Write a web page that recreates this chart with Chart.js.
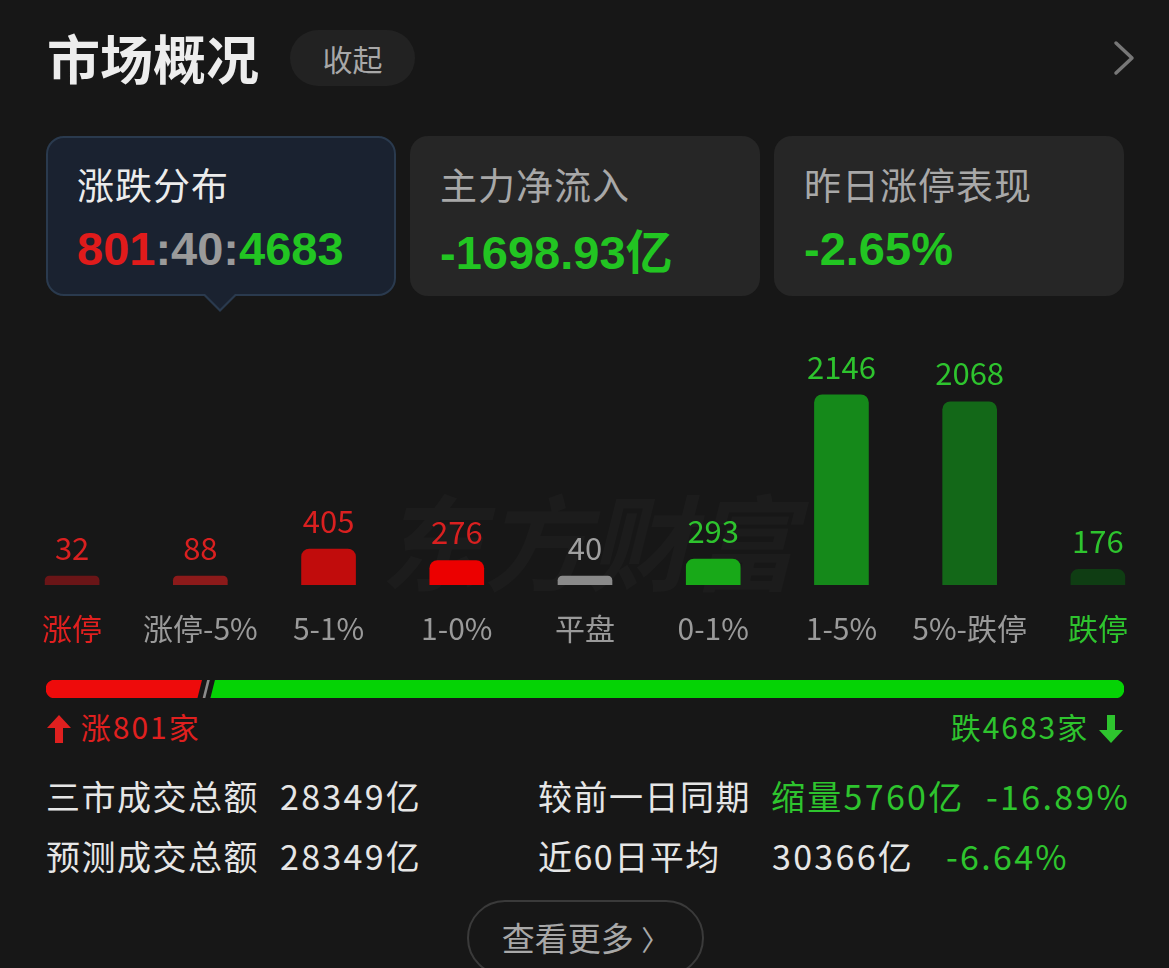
<!DOCTYPE html>
<html>
<head>
<meta charset="utf-8">
<script src="https://cdn.jsdelivr.net/npm/chart.js@4/dist/chart.umd.min.js"></script>
<style>
  html, body { margin: 0; padding: 0; background: #171717; }
  body { width: 1169px; height: 968px; position: relative; overflow: hidden;
         font-family: "Noto Sans CJK SC", "Noto Sans", sans-serif; color: #e8e8e8; }
  .abs { position: absolute; white-space: nowrap; }
  .title { left: 47px; top: 20px; font-size: 53px; font-weight: 700; color: #ededed; line-height: 74px; }
  .pill { left: 290px; top: 30px; width: 125px; height: 56px; border-radius: 28px; background: #222;
          color: #a8a8a8; font-size: 30px; line-height: 56px; text-align: center; }
  .chev { left: 1110px; top: 40px; width: 28px; height: 36px; }
  .card { top: 136px; width: 350px; height: 160px; border-radius: 18px; background: #262626; box-sizing: border-box; }
  .card.sel { background: #1a2230; border: 2px solid #2a3a4e; }
  .card .t { position: absolute; left: 30px; top: 23px; font-size: 37px; color: #a8a8a8; line-height: 50px; letter-spacing: 1px; }
  .card.sel .t { color: #ececec; left: 29px; top: 21px; }
  .card .v { position: absolute; left: 30px; top: 88px; font-size: 47px; font-weight: 700; line-height: 50px;
             font-family: "Liberation Sans", Arial, sans-serif; color: #22c522; }
  .card.sel .v { left: 29px; top: 86px; }
  .tri { left: 202px; top: 294px; width: 0; height: 0; border-left: 18px solid transparent;
         border-right: 18px solid transparent; border-top: 18px solid #2a3a4e; }
  .tri2 { left: 204px; top: 293px; width: 0; height: 0; border-left: 16px solid transparent;
          border-right: 16px solid transparent; border-top: 16px solid #1a2230; }
  .wm { left: 380px; top: 462px; font-size: 104px; font-weight: 700; font-style: italic; color: rgba(255,255,255,0.022); }
  .leg { top: 706px; font-size: 30px; line-height: 40px; letter-spacing: 2px; }
  .row { font-size: 34px; line-height: 46px; color: #e6e6e6; letter-spacing: 1.5px; }
  .num { letter-spacing: 2.3px; }
  .g { color: #2ec42e; }
  .more { left: 467px; top: 900px; width: 237px; height: 76px; border-radius: 38px; border: 2px solid #3a3a3a;
          box-sizing: border-box; color: #a8a8a8; font-size: 33px; line-height: 70px; text-align: center; }
</style>
</head>
<body>
<div class="abs title">市场概况</div>
<div class="abs pill">收起</div>
<svg class="abs chev" viewBox="0 0 28 36"><polyline points="6,3 22,18 6,33" fill="none" stroke="#777" stroke-width="3.5" stroke-linecap="round" stroke-linejoin="round"/></svg>

<div class="abs card sel" style="left:46px;">
  <div class="t">涨跌分布</div>
  <div class="v"><span style="color:#e01b1b">801</span><span style="color:#9a9a9a">:40:</span><span>4683</span></div>
</div>
<div class="abs tri"></div>
<div class="abs tri2"></div>
<div class="abs card" style="left:410px;">
  <div class="t">主力净流入</div>
  <div class="v">-1698.93<span style="font-family:'Noto Sans CJK SC';font-weight:700;">亿</span></div>
</div>
<div class="abs card" style="left:774px;">
  <div class="t">昨日涨停表现</div>
  <div class="v">-2.65%</div>
</div>

<div class="abs wm">东方财富</div>
<div class="abs" style="left:8px; top:329px; width:1154px; height:344px;"><canvas id="dist"></canvas></div>
<div class="abs" style="left:46px; top:680px; width:1078px; height:18px;"><canvas id="ratio"></canvas></div>

<div class="abs leg" style="left:46px; color:#e0201f;">
  <svg width="26" height="30" viewBox="0 0 26 30" style="vertical-align:-5px;"><path d="M13 1 L25 14 L17 14 L17 29 L9 29 L9 14 L1 14 Z" fill="#e0201f"/></svg>
  <span id="upTxt"></span>
</div>
<div class="abs leg" style="right:45px; color:#2ec42e;">
  <span id="downTxt"></span>
  <svg width="26" height="30" viewBox="0 0 26 30" style="vertical-align:-5px;"><path d="M13 29 L25 16 L17 16 L17 1 L9 1 L9 16 L1 16 Z" fill="#2ec42e"/></svg>
</div>

<div class="abs row" style="left:46px; top:773px;">三市成交总额</div>
<div class="abs row num" style="left:280px; top:773px;">28349亿</div>
<div class="abs row" style="left:538px; top:773px;">较前一日同期</div>
<div class="abs row g num" style="left:771px; top:773px;">缩量5760亿</div>
<div class="abs row g num" style="left:986px; top:773px;">-16.89%</div>
<div class="abs row" style="left:46px; top:833px;">预测成交总额</div>
<div class="abs row num" style="left:280px; top:833px;">28349亿</div>
<div class="abs row" style="left:538px; top:833px;">近60日平均</div>
<div class="abs row num" style="left:772px; top:833px;">30366亿</div>
<div class="abs row g num" style="left:946px; top:833px;">-6.64%</div>

<div class="abs more">查看更多 <span style="font-size:28px;">〉</span></div>

<script>
// 涨跌分布
const categories = ['涨停', '涨停-5%', '5-1%', '1-0%', '平盘', '0-1%', '1-5%', '5%-跌停', '跌停'];
const counts = [32, 88, 405, 276, 40, 293, 2146, 2068, 176];
const barColors = ['#6a1517', '#8c1a1a', '#c10c0c', '#ec0000', '#8a8a8a', '#18a918', '#15891a', '#136818', '#0f3d13'];
const valueColors = ['#d92020', '#d92020', '#d92020', '#d92020', '#a0a0a0', '#2ec42e', '#2ec42e', '#2ec42e', '#2ec42e'];
const tickColors = ['#e0201f', '#9a9a9a', '#9a9a9a', '#9a9a9a', '#9a9a9a', '#9a9a9a', '#9a9a9a', '#9a9a9a', '#2ec42e'];

// 涨 / 平 / 跌 家数
const upCount = 801;
const flatCount = 40;
const downCount = 4683;

document.getElementById('upTxt').textContent = '涨' + upCount + '家';
document.getElementById('downTxt').textContent = '跌' + downCount + '家';

const FONT = '"Noto Sans CJK SC", "Noto Sans", sans-serif';

const valueLabels = {
  id: 'valueLabels',
  afterDatasetsDraw(chart) {
    const ctx = chart.ctx;
    const meta = chart.getDatasetMeta(0);
    ctx.save();
    ctx.font = '31px ' + FONT;
    ctx.textAlign = 'center';
    ctx.textBaseline = 'middle';
    meta.data.forEach((bar, i) => {
      ctx.fillStyle = valueColors[i];
      ctx.fillText(String(counts[i]), bar.x, bar.y - 28);
    });
    ctx.restore();
  }
};

new Chart(document.getElementById('dist'), {
  type: 'bar',
  data: {
    labels: categories,
    datasets: [{
      data: counts,
      backgroundColor: barColors,
      borderRadius: 8,
      barThickness: 54,
      minBarLength: 9
    }]
  },
  options: {
    responsive: true,
    maintainAspectRatio: false,
    animation: false,
    layout: { padding: { top: 30 } },
    plugins: { legend: { display: false }, tooltip: { enabled: false } },
    scales: {
      x: {
        grid: { display: false, drawTicks: false },
        border: { display: false },
        ticks: {
          padding: 26,
          font: { size: 30, family: FONT },
          color: (c) => tickColors[c.index]
        }
      },
      y: { display: false, min: 0, max: 2550 }
    }
  },
  plugins: [valueLabels]
});

// slanted separators between the segments
const separators = {
  id: 'separators',
  afterDatasetsDraw(chart) {
    const ctx = chart.ctx;
    const xs = chart.scales.x;
    const top = chart.chartArea.top, bottom = chart.chartArea.bottom;
    ctx.save();
    ctx.strokeStyle = '#171717';
    ctx.lineWidth = 5;
    [upCount, upCount + flatCount].forEach(v => {
      const x = xs.getPixelForValue(v);
      ctx.beginPath();
      ctx.moveTo(x + 2.5, top - 1);
      ctx.lineTo(x - 2.5, bottom + 1);
      ctx.stroke();
    });
    ctx.restore();
  }
};

new Chart(document.getElementById('ratio'), {
  type: 'bar',
  data: {
    labels: [''],
    datasets: [
      { data: [upCount], backgroundColor: '#ee0b0b', borderSkipped: false, borderRadius: { topLeft: 9, bottomLeft: 9 } },
      { data: [flatCount], backgroundColor: '#8a8a8a', borderSkipped: false, borderRadius: 0 },
      { data: [downCount], backgroundColor: '#05d305', borderSkipped: false, borderRadius: { topRight: 9, bottomRight: 9 } }
    ]
  },
  options: {
    indexAxis: 'y',
    responsive: true,
    maintainAspectRatio: false,
    animation: false,
    layout: { padding: 0 },
    datasets: { bar: { categoryPercentage: 1, barPercentage: 1 } },
    plugins: { legend: { display: false }, tooltip: { enabled: false } },
    scales: {
      x: { display: false, stacked: true, min: 0, max: upCount + flatCount + downCount },
      y: { display: false, stacked: true }
    }
  },
  plugins: [separators]
});
</script>
</body>
</html>
